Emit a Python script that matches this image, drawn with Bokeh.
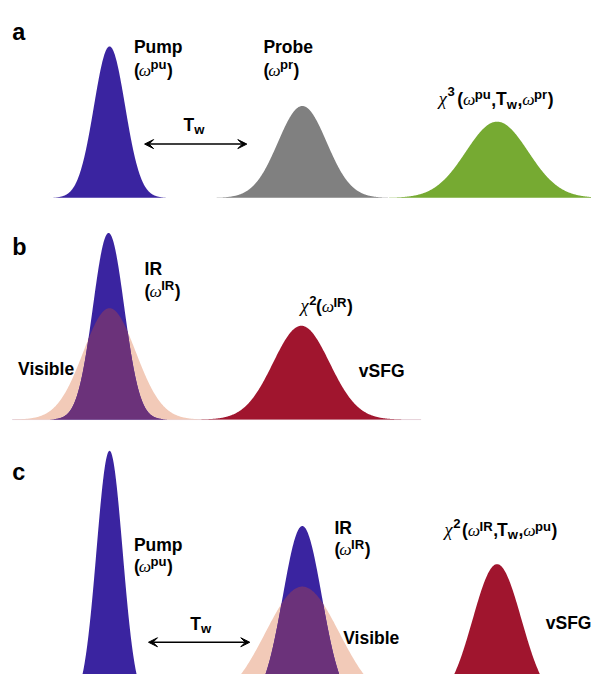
import numpy as np
from bokeh.plotting import figure
from bokeh.models import Range1d, Arrow, VeeHead
from bokeh.core.properties import value
from bokeh.embed import file_html
from bokeh.resources import INLINE

# ---------------- data (schematic pulse parameters) ----------------
# panel a: Pump, Probe, chi3 signal
a_centers = [112, 310, 510]
a_peaks = [155, 94, 78]
a_sigmas = [16, 25, 32]
a_baseline = 202
a_colors = ["#3a24a0", "#808080", "#76aa32"]

# panel b: IR, Visible, vSFG
b_centers = [111, 112, 309]
b_peaks = [191, 114, 96]
b_sigmas = [16, 27, 29]
b_baseline = 429

# panel c: Pump, IR, Visible, vSFG
c_centers = [112, 310, 310, 510]
c_peaks = [259, 182, 120, 143]
c_sigmas = [13.4, 20, 38, 25]
c_baseline = 720

BLUE = "#3a24a0"
PEACH = "#f2cab8"
PURPLE = "#6b327a"
RED = "#a0152e"

W, H = 591, 674
S = W / 607.0

p = figure(width=W, height=H, x_range=Range1d(0, 607), y_range=Range1d(690, 0),
           output_backend="svg", toolbar_location=None, min_border=0,
           x_axis_location=None, y_axis_location=None, outline_line_color=None)
p.grid.visible = False
p.background_fill_color = "white"


def gauss(xs, c, a, s):
    return a * np.exp(-0.5 * ((xs - c) / s) ** 2)


def pulse(c, a, s, base, color):
    xs = np.linspace(c - 3.6 * s, c + 3.6 * s, 400)
    p.varea(x=xs, y1=np.full_like(xs, base), y2=base - gauss(xs, c, a, s),
            fill_color=color)


def overlap(c1, a1, s1, c2, a2, s2, base, color):
    lo = min(c1 - 3.6 * s1, c2 - 3.6 * s2)
    hi = max(c1 + 3.6 * s1, c2 + 3.6 * s2)
    xs = np.linspace(lo, hi, 500)
    g = np.minimum(gauss(xs, c1, a1, s1), gauss(xs, c2, a2, s2))
    p.varea(x=xs, y1=np.full_like(xs, base), y2=base - g, fill_color=color)


def txt(x, y, s, size=18, font="Liberation Sans", style="bold", color="black"):
    p.text(x=[x], y=[y], text=[s], text_font=value(font),
           text_font_size=f"{size * S:.1f}px", text_font_style=style,
           text_baseline="alphabetic", text_align="left", text_color=color)


def omega(x, y):
    txt(x, y, "\u03c9", 18, "Liberation Serif", "italic")


def chi(x, y):
    txt(x, y, "\u03c7", 19, "Liberation Serif", "italic")


def arrow(x0, x1, y):
    p.add_layout(Arrow(start=VeeHead(size=9, fill_color="black", line_color="black"),
                       end=VeeHead(size=9, fill_color="black", line_color="black"),
                       x_start=x0, y_start=y, x_end=x1, y_end=y,
                       line_width=1.5, line_color="black"))


# ---------------- panel a ----------------
for c, a, s, col in zip(a_centers, a_peaks, a_sigmas, a_colors):
    pulse(c, a, s, a_baseline, col)

txt(12, 32, "a", 24)
txt(137, 48, "Pump")
txt(137, 71, "(")
omega(142, 71)
txt(154, 66, "pu", 13.5)
txt(171, 71, ")")
txt(270, 48, "Probe")
txt(270, 71, "(")
omega(275, 71)
txt(287, 66, "pr", 13.5)
txt(301, 71, ")")
txt(188, 127, "T")
txt(199, 132, "w", 13.5)
arrow(148, 253, 147)
chi(450, 101)
txt(459, 93, "3", 13.5)
txt(469, 101, "(")
omega(475, 101)
txt(487, 96, "pu", 13.5)
txt(504, 101, ",")
txt(509, 101, "T")
txt(520, 106, "w", 13.5)
txt(531, 101, ",")
omega(536, 101)
txt(548, 96, "pr", 13.5)
txt(562, 101, ")")

# ---------------- panel b ----------------
p.line(x=[12, 432], y=[b_baseline, b_baseline], line_color="#e6d2da", line_width=1)
pulse(b_centers[1], b_peaks[1], b_sigmas[1], b_baseline, PEACH)
pulse(b_centers[0], b_peaks[0], b_sigmas[0], b_baseline, BLUE)
overlap(b_centers[0], b_peaks[0], b_sigmas[0], b_centers[1], b_peaks[1], b_sigmas[1],
        b_baseline, PURPLE)
pulse(b_centers[2], b_peaks[2], b_sigmas[2], b_baseline, RED)

txt(12, 252, "b", 24)
txt(148, 275, "IR")
txt(148, 297, "(")
omega(153, 297)
txt(165, 292, "IR", 13.5)
txt(179, 297, ")")
txt(18, 377, "Visible")
chi(308, 313)
txt(317, 307, "2", 13.5)
txt(324, 313, "(")
omega(330, 313)
txt(342, 309, "IR", 13.5)
txt(356, 313, ")")
txt(368, 379, "vSFG")

# ---------------- panel c ----------------
pulse(c_centers[0], c_peaks[0], c_sigmas[0], c_baseline, BLUE)
pulse(c_centers[2], c_peaks[2], c_sigmas[2], c_baseline, PEACH)
pulse(c_centers[1], c_peaks[1], c_sigmas[1], c_baseline, BLUE)
overlap(c_centers[1], c_peaks[1], c_sigmas[1], c_centers[2], c_peaks[2], c_sigmas[2],
        c_baseline, PURPLE)
pulse(c_centers[3], c_peaks[3], c_sigmas[3], c_baseline, RED)

txt(12, 483, "c", 24)
txt(137, 557, "Pump")
txt(137, 579, "(")
omega(142, 579)
txt(154, 574, "pu", 13.5)
txt(171, 579, ")")
txt(195, 638, "T")
txt(206, 643, "w", 13.5)
arrow(152, 256, 657)
txt(343, 540, "IR")
txt(343, 562, "(")
omega(348, 562)
txt(360, 557, "IR", 13.5)
txt(374, 562, ")")
txt(352, 653, "Visible")
chi(456, 542)
txt(465, 535, "2", 13.5)
txt(474, 542, "(")
omega(480, 542)
txt(492, 538, "IR", 13.5)
txt(506, 542, ",")
txt(510, 542, "T")
txt(521, 547, "w", 13.5)
txt(532, 542, ",")
omega(537, 542)
txt(549, 538, "pu", 13.5)
txt(566, 542, ")")
txt(560, 637, "vSFG")

open("out.html", "w").write(file_html(p, INLINE))
